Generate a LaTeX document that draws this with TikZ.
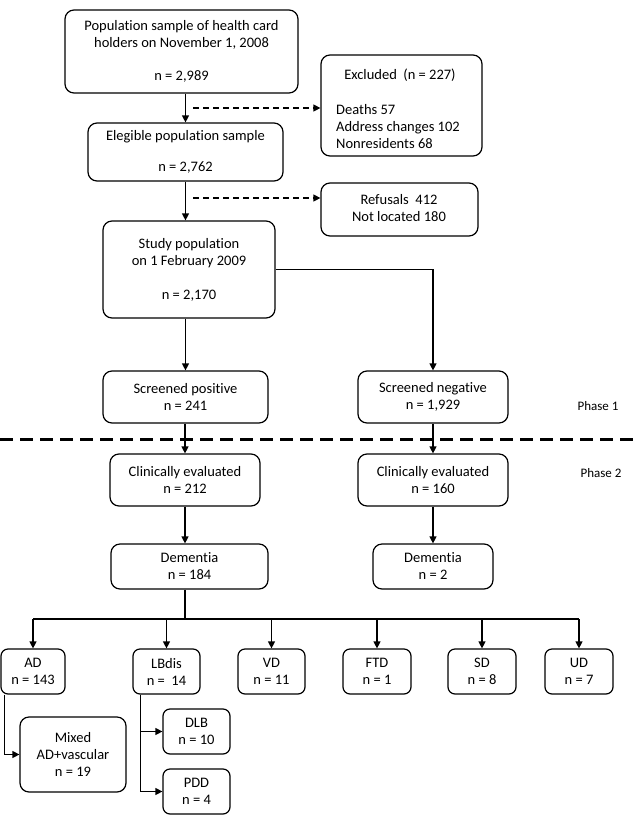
\documentclass[tikz,border=0pt]{standalone}
\usepackage{fontspec}
\setmainfont[Ligatures={NoCommon,NoContextual},RawFeature=-liga,RawFeature=-clig,RawFeature=-calt]{Carlito}
\usetikzlibrary{arrows.meta,calc}
\begin{document}
\begin{tikzpicture}[x=1pt,y=-1pt,
  every node/.style={font=\fontsize{14.5}{17}\selectfont},
  box/.style={draw, line width=1.2pt, rounded corners=9pt, align=center, inner sep=0pt},
  sbox/.style={box, rounded corners=7pt},
  txt/.style={inner sep=0pt, align=center},
  arr/.style={line width=1.2pt, -{Triangle[length=7pt,width=7pt]}},
  conn/.style={line width=1.2pt},
  darr/.style={line width=1.2pt, dash pattern=on 6pt off 4pt, -{Triangle[length=7pt,width=7pt]}},
  phase/.style={line width=3pt, dash pattern=on 13pt off 7pt},
  phasetxt/.style={inner sep=0pt, font=\fontsize{13}{15}\selectfont}]
\useasboundingbox (0,0) rectangle (639,823);
% top
\node[box, minimum width=233pt, minimum height=83pt] (pop) at (181.5,51.5)
  {Population sample of health card\\holders on November 1, 2008\\[16pt]n = 2,989};
\node[box, minimum width=195pt, minimum height=58pt] (eleg) at (185.5,152)
  {Elegible population sample\\[14pt]n = 2,762};
\node[box, minimum width=161pt, minimum height=101pt] (excl) at (401.5,105.5) {};
\node[txt] (exclh) at (400,75) {Excluded\ \ (n = 227)};
\node[txt, align=left, anchor=west] (exclt) at (336,127) {Deaths 57\\Address changes 102\\Nonresidents 68};
\node[box, minimum width=157pt, minimum height=53pt] (ref) at (399.5,209.5) {};
\node[txt] (reft) at (399,208.5) {Refusals\ \ 412\\Not located 180};
\node[box, minimum width=172pt, minimum height=97pt] (study) at (189,269.5)
  {Study population\\on 1 February 2009\\[17pt]n = 2,170};
\node[box, minimum width=165pt, minimum height=52pt] (spos) at (185.5,397) {Screened positive\\n = 241};
\node[box, minimum width=150pt, minimum height=52pt] (sneg) at (433,397) {Screened negative\\n = 1,929};
\node[box, minimum width=150pt, minimum height=52pt] (clin1) at (185,480) {Clinically evaluated\\n = 212};
\node[box, minimum width=150pt, minimum height=52pt] (clin2) at (433,480) {Clinically evaluated\\n = 160};
\node[box, minimum width=157pt, minimum height=45pt] (dem1) at (189.5,566.5) {Dementia\\n = 184};
\node[box, minimum width=120pt, minimum height=45pt] (dem2) at (433,566.5) {Dementia\\n = 2};
\node[phasetxt] (ph1) at (598,406) {Phase 1};
\node[phasetxt] (ph2) at (601,473) {Phase 2};
% bottom boxes
\node[sbox, minimum width=64pt, minimum height=45pt] (ad) at (33,671.5) {AD\\n = 143};
\node[sbox, minimum width=67pt, minimum height=45pt] (lbd) at (166.5,671.5) {LBdis\\n =\ \ 14};
\node[sbox, minimum width=67pt, minimum height=45pt] (vd) at (271.5,671.5) {VD\\n = 11};
\node[sbox, minimum width=68pt, minimum height=45pt] (ftd) at (377,671.5) {FTD\\n = 1};
\node[sbox, minimum width=68pt, minimum height=45pt] (sd) at (482,671.5) {SD\\n = 8};
\node[sbox, minimum width=68pt, minimum height=45pt] (ud) at (579,671.5) {UD\\n = 7};
\node[box, minimum width=106pt, minimum height=75pt] (mixed) at (73,754.5) {Mixed\\AD+vascular\\n = 19};
\node[sbox, minimum width=67pt, minimum height=45pt] (dlb) at (196.5,731.5) {DLB\\n = 10};
\node[sbox, minimum width=67pt, minimum height=45pt] (pdd) at (196.5,791.5) {PDD\\n = 4};
% connectors
\draw[arr] (eleg.north |- pop.south) -- (eleg.north);
\coordinate (d1) at (193,108);
\draw[darr] (d1) -- (d1 -| excl.west);
\draw[arr] (eleg.south) -- (eleg.south |- study.north);
\coordinate (d2) at (193,198);
\draw[darr] (d2) -- (d2 -| ref.west);
\draw[arr] (spos.north |- study.south) -- (spos.north);
\draw[arr] (study.east) -| (sneg.north);
\coordinate (pl) at (0,439);
\coordinate (pr) at (639,439);
\draw[phase] (pl) -- (pr);
\draw[arr] (clin1.north |- spos.south) -- (clin1.north);
\draw[arr] (sneg.south) -- (clin2.north);
\draw[arr] (clin1.south) -- (clin1.south |- dem1.north);
\draw[arr] (clin2.south) -- (dem2.north);
\coordinate (bus) at (185,619);
\draw[conn] (clin1.south |- dem1.south) -- (bus);
\draw[conn] (ad.north |- bus) -- (ud.north |- bus);
\foreach \n in {ad,lbd,vd,ftd,sd,ud}{\draw[arr] (\n.north |- bus) -- (\n.north);}
\draw[arr] ([xshift=4pt]ad.south west) |- (mixed.west);
\draw[arr] ([xshift=8pt]lbd.south west) |- (dlb.west);
\draw[arr] ([xshift=8pt]lbd.south west) |- (pdd.west);
\end{tikzpicture}
\end{document}
